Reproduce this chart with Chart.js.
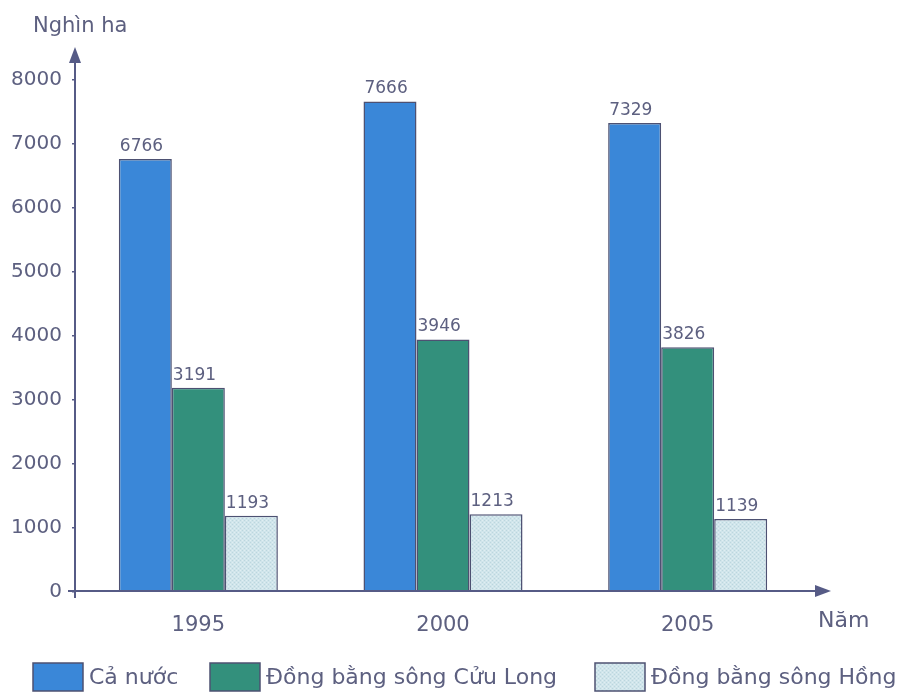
<!DOCTYPE html>
<html>
<head>
<meta charset="utf-8">
<script src="https://cdn.jsdelivr.net/npm/chart.js@4"></script>
<style>
  body { margin: 0; background: #fff; }
  canvas { display: block; }
</style>
</head>
<body>
<canvas id="grafico" width="906" height="694"></canvas>
<script>
// dữ liệu
var years = ['1995', '2000', '2005'];
var caNuoc = [6766, 7666, 7329];
var cuuLong = [3191, 3946, 3826];
var songHong = [1193, 1213, 1139];
var seriesNames = ['Cả nước', 'Đồng bằng sông Cửu Long', 'Đồng bằng sông Hồng'];
var yMax = 8000;
var yStep = 1000;

var FONT = 'DejaVu Sans';
var textColor = '#5d6080';
var axisColor = '#565b86';
var edgeColor = '#4d5172';

// hatch texture for the light bars
function makeHatch() {
    var c = document.createElement('canvas');
    c.width = 4; c.height = 4;
    var g = c.getContext('2d');
    g.fillStyle = '#d0e5eb';
    g.fillRect(0, 0, 4, 4);
    g.fillStyle = '#bcd6de';
    g.fillRect(0, 0, 1, 1);
    g.fillRect(2, 2, 1, 1);
    g.fillStyle = '#e0eef2';
    g.fillRect(2, 0, 1, 1);
    g.fillRect(0, 2, 1, 1);
    return g.createPattern(c, 'repeat');
}
var hatch = makeHatch();
var colors = ['#3a87d8', '#33907c', hatch];

var extras = {
    id: 'extras',
    afterDatasetsDraw: function (chart) {
        var ctx = chart.ctx;
        ctx.save();
        ctx.font = '17px "' + FONT + '"';
        ctx.fillStyle = textColor;
        ctx.textAlign = 'left';
        ctx.textBaseline = 'bottom';
        chart.data.datasets.forEach(function (ds, i) {
            chart.getDatasetMeta(i).data.forEach(function (bar, j) {
                var left = bar.x - bar.width / 2;
                ctx.fillText(String(ds.data[j]), left + 1, bar.y - 4);
            });
        });
        ctx.restore();
    },
    afterDraw: function (chart) {
        var ctx = chart.ctx;
        var area = chart.chartArea;
        var x0 = area.left - 1;
        var y0 = area.bottom - 1;
        ctx.save();
        ctx.strokeStyle = axisColor;
        ctx.fillStyle = axisColor;
        ctx.lineWidth = 2;
        // trục tung
        ctx.beginPath();
        ctx.moveTo(x0, y0 + 7);
        ctx.lineTo(x0, 60);
        ctx.stroke();
        ctx.beginPath();
        ctx.moveTo(x0, 47);
        ctx.lineTo(x0 - 6, 63);
        ctx.lineTo(x0 + 6, 63);
        ctx.closePath();
        ctx.fill();
        // trục hoành
        ctx.beginPath();
        ctx.moveTo(68, y0);
        ctx.lineTo(818, y0);
        ctx.stroke();
        ctx.beginPath();
        ctx.moveTo(831, y0);
        ctx.lineTo(815, y0 - 6);
        ctx.lineTo(815, y0 + 6);
        ctx.closePath();
        ctx.fill();

        // chữ
        ctx.fillStyle = textColor;
        ctx.textBaseline = 'middle';
        ctx.textAlign = 'left';
        ctx.font = '21px "' + FONT + '"';
        ctx.fillText('Nghìn ha', 33, 27);
        ctx.font = '22px "' + FONT + '"';
        ctx.fillText('Năm', 818, 621);

        // chú giải
        var boxes = [33, 210, 595];
        ctx.font = '22px "' + FONT + '"';
        chart.data.datasets.forEach(function (ds, i) {
            ctx.fillStyle = ds.backgroundColor;
            ctx.fillRect(boxes[i], 663, 50, 28);
            ctx.strokeStyle = edgeColor;
            ctx.lineWidth = 1.5;
            ctx.strokeRect(boxes[i], 663, 50, 28);
            ctx.fillStyle = textColor;
            ctx.fillText(ds.label, boxes[i] + 56, 678);
        });
        ctx.restore();
    }
};

var ctx = document.getElementById('grafico').getContext('2d');
new Chart(ctx, {
    type: 'bar',
    data: {
        labels: years,
        datasets: [caNuoc, cuuLong, songHong].map(function (vals, i) {
            return {
                label: seriesNames[i],
                data: vals,
                backgroundColor: colors[i],
                borderColor: edgeColor,
                borderWidth: 1.5,
                categoryPercentage: 0.65,
                barPercentage: 1.0
            };
        })
    },
    options: {
        responsive: false,
        animation: false,
        layout: { padding: { top: 80, left: 8, right: 96, bottom: 0 } },
        plugins: {
            legend: { display: false },
            tooltip: { enabled: false }
        },
        scales: {
            x: {
                grid: { display: false },
                border: { display: false },
                ticks: {
                    color: textColor,
                    padding: 13,
                    font: { family: FONT, size: 21 }
                },
                afterFit: function (s) { s.height = 102; }
            },
            y: {
                min: 0,
                max: yMax,
                grid: { drawOnChartArea: false, tickLength: 4, color: axisColor, lineWidth: 1.5 },
                border: { display: false },
                ticks: {
                    stepSize: yStep,
                    color: textColor,
                    padding: 10,
                    font: { family: FONT, size: 20 },
                    callback: function (v) { return String(v); }
                },
                afterFit: function (s) { s.width = 68; }
            }
        }
    },
    plugins: [extras]
});
</script>
</body>
</html>
